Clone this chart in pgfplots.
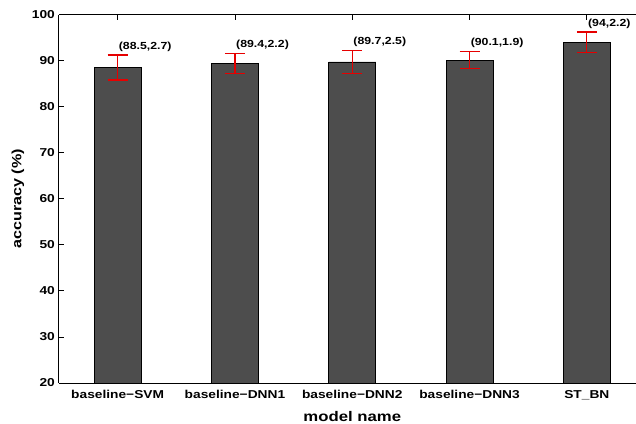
\documentclass[border=0pt]{standalone}
\usepackage{pgfplots}
\pgfplotsset{compat=1.18}
\usepackage{fontspec}
\setmainfont{Liberation Sans}
\definecolor{barg}{RGB}{77,77,77}
\definecolor{ebred}{RGB}{230,0,0}
\newcommand\hs[1]{\scalebox{1.2}[1]{#1}}
\pgfplotstableread{
x y e
1 88.5 2.7
2 89.4 2.2
3 89.7 2.5
4 90.1 1.9
5 94.0 2.2
}\acc
\begin{document}
\begin{tikzpicture}
\begin{axis}[
  at={(0,0)}, anchor=south west, scale only axis,
  width=577bp, height=368.5bp,
  xmin=0.5, xmax=5.419, ymin=20, ymax=100,
  axis x line*=box, axis y line*=left,
  xtick={1,2,3,4,5},
  xticklabels={\hs{baseline−SVM},\hs{baseline−DNN1},\hs{baseline−DNN2},\hs{baseline−DNN3},\hs{ST\_BN}},
  ytick={20,30,40,50,60,70,80,90,100},
  yticklabels={\hs{20},\hs{30},\hs{40},\hs{50},\hs{60},\hs{70},\hs{80},\hs{90},\hs{100}},
  tick align=inside, major tick length=5bp,
  axis line style={line width=1bp},
  every tick/.style={black, line width=0.8bp},
  xticklabel style={font=\fontsize{11.5}{12}\selectfont\bfseries, anchor=north, inner sep=0pt, yshift=-7bp},
  yticklabel style={font=\fontsize{11.5}{12}\selectfont\bfseries, anchor=east, inner sep=0pt, xshift=-4bp},
]
\addplot[ybar, bar width=47bp, fill=barg, draw=black, line width=0.6bp]
  table[x=x, y=y] {\acc};
\addplot[draw=none, mark=none, forget plot,
  error bars/.cd, y dir=both, y explicit,
  error bar style={color=ebred, line width=1.2bp},
  error mark options={color=ebred, line width=1.2bp, mark size=10bp, rotate=90}]
  table[x=x, y=y, y error=e] {\acc};
\begin{scope}[font=\fontsize{10.3}{11}\selectfont\bfseries]
\node[anchor=west, inner sep=1bp] at (axis cs:1,93.0) {\hs{(88.5,2.7)}};
\node[anchor=west, inner sep=1bp] at (axis cs:2,93.5) {\hs{(89.4,2.2)}};
\node[anchor=west, inner sep=1bp] at (axis cs:3,94.0) {\hs{(89.7,2.5)}};
\node[anchor=west, inner sep=1bp] at (axis cs:4,93.9) {\hs{(90.1,1.9)}};
\node[anchor=west, inner sep=1bp] at (axis cs:5,97.9) {\hs{(94,2.2)}};
\end{scope}
\end{axis}
\node[rotate=90, font=\fontsize{13.5}{14}\selectfont\bfseries] at (-41bp,184.25bp) {\hs{accuracy (\%)}};
\node[anchor=north, inner sep=0pt, font=\fontsize{14}{15}\selectfont\bfseries] at (293.25bp,-28.5bp) {\hs{model name}};
\pgfresetboundingbox
\useasboundingbox (-59bp,-41bp) rectangle (577bp,383bp);
\end{tikzpicture}
\end{document}
